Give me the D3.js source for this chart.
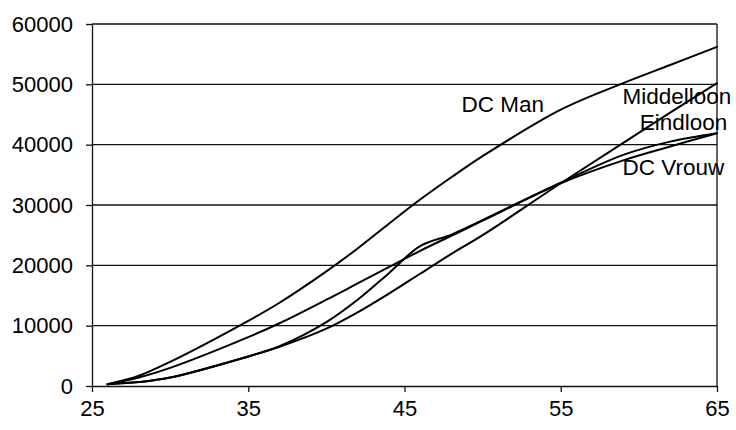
<!DOCTYPE html>
<html>
<head>
<meta charset="utf-8">
<script src="https://cdn.jsdelivr.net/npm/d3@7"></script>
<style>
  html, body { margin: 0; padding: 0; background: #fff; }
  svg { display: block; }
  text { font-family: "Liberation Sans", Arial, sans-serif; fill: #000; }
</style>
</head>
<body>
<svg id="chart" width="736" height="430"></svg>
<script>
// Leeftijd (x) en opgebouwd pensioen per regeling (y)
const ages       = [26, 28, 30, 35, 37, 40, 42, 44, 46, 48, 50, 55, 59, 62, 65];
const dcMan      = [300, 1700, 4000, 10800, 13800, 19000, 22800, 26900, 30900, 34600, 38100, 45800, 50200, 53200, 56200];
const middelloon = [300, 650, 1400, 4900, 6500, 9500, 12200, 15300, 18600, 21900, 25000, 33600, 40300, 45300, 50200];
const eindloon   = [300, 650, 1400, 4900, 6600, 10600, 14300, 18700, 23200, 25100, 27500, 33700, 38300, 40500, 41900];
const dcVrouw    = [300, 1400, 3000, 8100, 10400, 14300, 17000, 19700, 22400, 24900, 27400, 33600, 37400, 39700, 41900];

const xTicks = [25, 35, 45, 55, 65];
const yTicks = [0, 10000, 20000, 30000, 40000, 50000, 60000];

const seriesNames = ["DC Man", "Middelloon", "Eindloon", "DC Vrouw"];
const seriesValues = [dcMan, middelloon, eindloon, dcVrouw];

const svg = d3.select("#chart");
const plot = { left: 92, right: 717, top: 24, bottom: 386 };

const x = d3.scaleLinear().domain([25, 65]).range([plot.left, plot.right]);
const y = d3.scaleLinear().domain([0, 60000]).range([plot.bottom, plot.top]);

// horizontale rasterlijnen
svg.append("g")
  .selectAll("line")
  .data(yTicks.filter(d => d > 0))
  .join("line")
  .attr("x1", plot.left).attr("x2", plot.right)
  .attr("y1", d => y(d)).attr("y2", d => y(d))
  .attr("stroke", "#111").attr("stroke-width", 1.3);

// rechter kader
svg.append("line")
  .attr("x1", plot.right).attr("x2", plot.right)
  .attr("y1", plot.top).attr("y2", plot.bottom)
  .attr("stroke", "#111").attr("stroke-width", 1.3);

// assen
const yAxis = svg.append("g")
  .attr("transform", `translate(${plot.left},0)`)
  .call(d3.axisLeft(y).tickValues(yTicks).tickFormat(d3.format("d")).tickSize(6).tickSizeOuter(0).tickPadding(13));

const xAxis = svg.append("g")
  .attr("transform", `translate(0,${plot.bottom})`)
  .call(d3.axisBottom(x).tickValues(xTicks).tickFormat(d3.format("d")).tickSize(6).tickSizeOuter(0).tickPadding(8));

[yAxis, xAxis].forEach(g => {
  g.select(".domain").attr("stroke", "#111").attr("stroke-width", 1.3);
  g.selectAll(".tick line").attr("stroke", "#111").attr("stroke-width", 1.3);
  g.selectAll("text")
    .attr("font-size", 22)
    .attr("font-family", "Liberation Sans, Arial, sans-serif")
    .attr("fill", "#000");
});

// lijnen
const line = d3.line()
  .x((d, i) => x(ages[i]))
  .y(d => y(d))
  .curve(d3.curveCatmullRom.alpha(0.5));

svg.append("g")
  .selectAll("path")
  .data(seriesValues)
  .join("path")
  .attr("d", d => line(d))
  .attr("fill", "none")
  .attr("stroke", "#000")
  .attr("stroke-width", 2)
  .attr("stroke-linejoin", "round")
  .attr("stroke-linecap", "round");

// labels bij de lijnen (plaats in data-coördinaten)
const labelPlacement = {
  "DC Man":     [48.65, 45400],
  "Middelloon": [58.95, 46750],
  "Eindloon":   [60.05, 42450],
  "DC Vrouw":   [58.95, 34950]
};

svg.append("g")
  .selectAll("text")
  .data(seriesNames)
  .join("text")
  .attr("x", d => x(labelPlacement[d][0]))
  .attr("y", d => y(labelPlacement[d][1]))
  .attr("font-size", 22.5)
  .text(d => d);
</script>
</body>
</html>
